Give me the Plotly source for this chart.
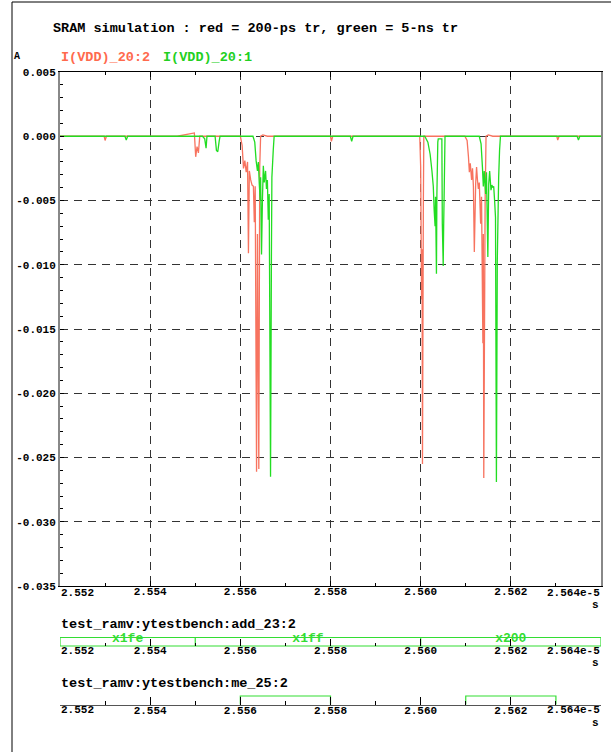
import plotly.graph_objects as go

# ---------------- data (time in units of 1e-5 s, current in A) ----------------
red_t = [2.5520, 2.55298, 2.55300, 2.55303, 2.5546, 2.55498, 2.55501, 2.55504, 2.55507, 2.5551,
         2.5560, 2.55604, 2.55607, 2.55610, 2.55613, 2.55616, 2.55618, 2.55620, 2.55623, 2.55626,
         2.55629, 2.55631, 2.55633, 2.55636, 2.55638, 2.55641, 2.55643, 2.55645, 2.5565, 2.5566,
         2.55800, 2.55802, 2.55805,
         2.55998, 2.56000, 2.56002, 2.56003, 2.56004, 2.56006, 2.56007,
         2.56098, 2.56103, 2.56106, 2.56108, 2.56110, 2.56113, 2.56115, 2.56117, 2.56119, 2.56122,
         2.56124, 2.56126, 2.56128, 2.56130, 2.56133, 2.56135, 2.56138, 2.56139, 2.56140, 2.56143,
         2.56145, 2.5615, 2.5616,
         2.56302, 2.56304, 2.56307, 2.5640]
red_v = [0.0, 0.0, -0.00033, 0.0, 0.0, 0.00026, -0.0016, -0.0008, -0.0013, 0.0,
         0.0, -0.00072, -0.0025, -0.0019, -0.0028, -0.0020, -0.0091, -0.0027, -0.0034, -0.0038,
         -0.0039, -0.0067, -0.0039, -0.0261, -0.0076, -0.0259, -0.0024, 0.0, 0.0001, 0.0,
         0.0, -0.0004, 0.0,
         0.0, -0.0024, -0.0127, -0.0088, -0.0255, -0.0050, 0.0,
         0.0, -0.00033, -0.0016, -0.0028, -0.0021, -0.0034, -0.0025, -0.0039, -0.0090, -0.0037,
         -0.0024, -0.0034, -0.0041, -0.0036, -0.0068, -0.0047, -0.0161, -0.0076, -0.0266, -0.0050,
         0.0, 0.0001, 0.0,
         0.0, -0.0003, 0.0, 0.0]

green_t = [2.5520, 2.55344, 2.55347, 2.55350,
           2.55516, 2.55521, 2.55524, 2.55526,
           2.55544, 2.55547, 2.55550, 2.55553, 2.55555,
           2.55628, 2.55632, 2.55635, 2.55638, 2.55640, 2.55642, 2.55644, 2.55645, 2.55647, 2.55649,
           2.55651, 2.55653, 2.55656, 2.55658, 2.55660, 2.55662, 2.55664, 2.55667, 2.55669, 2.55670,
           2.55673, 2.55675,
           2.55844, 2.55847, 2.55850,
           2.56009, 2.56016, 2.56021, 2.56025, 2.56028, 2.56030, 2.56032, 2.56033, 2.56035, 2.56036,
           2.56038, 2.56039, 2.56047, 2.56048, 2.56050, 2.56051, 2.56053, 2.56054,
           2.56130, 2.56134, 2.56137, 2.56139, 2.56141, 2.56144, 2.56146, 2.56149, 2.56151, 2.56153,
           2.56156, 2.56158, 2.56160, 2.56162, 2.56164, 2.56166, 2.56168, 2.56170, 2.56173, 2.56175,
           2.56177,
           2.56347, 2.56350, 2.56353, 2.5640]
green_v = [0.0, 0.0, -0.0003, 0.0,
           0.0, -0.0002, -0.00093, 0.0,
           0.0, -0.0011, -0.0012, -0.0004, 0.0,
           0.0, -0.00046, -0.0019, -0.0027, -0.0020, -0.0037, -0.0050, -0.0032, -0.0092, -0.0050,
           -0.0023, -0.0036, -0.0027, -0.0041, -0.0034, -0.0065, -0.0045, -0.0265, -0.0091, -0.0032,
           -0.0011, 0.0,
           0.0, -0.0004, 0.0,
           0.0, -0.00046, -0.0014, -0.0027, -0.0039, -0.0058, -0.0070, -0.0047, -0.0107, -0.0045,
           -0.00046, -0.0002, -0.0002, -0.0068, -0.0101, -0.0070, -0.0024, 0.0,
           0.0, -0.0006, -0.0024, -0.0039, -0.0027, -0.0045, -0.0028, -0.0094, -0.0037, -0.0027,
           -0.0042, -0.0038, -0.0040, -0.0039, -0.0050, -0.0063, -0.0269, -0.0096, -0.0032, -0.0011,
           0.0,
           0.0, -0.0003, 0.0, 0.0]

x_ticks = [2.552, 2.554, 2.556, 2.558, 2.560, 2.562, 2.564]
x_labels = ["2.552", "2.554", "2.556", "2.558", "2.560", "2.562", "2.564e-5"]
x_minor = [2.553, 2.555, 2.557, 2.559, 2.561, 2.563]
y_ticks = [0.005, 0.0, -0.005, -0.010, -0.015, -0.020, -0.025, -0.030, -0.035]
y_labels = ["0.005", "0.000", "-0.005", "-0.010", "-0.015", "-0.020", "-0.025", "-0.030", "-0.035"]
y_minor = [v / 1000 for v in range(-35, 6)]

bus_edges = [2.552, 2.555, 2.560, 2.564]
bus_values = ["x1fe", "x1ff", "x200"]

me_edges = [2.556, 2.558, 2.561, 2.563]   # rising, falling, rising, falling

# ---------------- styling ----------------
W, H = 611, 752
RED = "#F7735F"
GREEN = "#22DD22"
FONT = "Liberation Mono"
X0, X1 = 60, 601


def px(p):
    return p / W


def py(p):
    return 1 - p / H


# interior tick labels from the axis; end labels (left/right aligned) as annotations
tick_text = [""] + x_labels[1:-1] + [""]
tickfont = dict(family=FONT, size=11, color="black", weight="bold")

fig = go.Figure()

fig.add_trace(go.Scatter(x=red_t, y=red_v, mode="lines", line=dict(color=RED, width=1.3, simplify=False),
                         showlegend=False, xaxis="x", yaxis="y"))
fig.add_trace(go.Scatter(x=green_t, y=green_v, mode="lines", line=dict(color=GREEN, width=1.3, simplify=False),
                         showlegend=False, xaxis="x", yaxis="y"))

# bus panel: box + transitions
bx, by = [], []
bx += [bus_edges[0], bus_edges[-1], None, bus_edges[0], bus_edges[-1], None]
by += [1, 1, None, 0, 0, None]
for e in bus_edges:
    bx += [e, e, None]
    by += [0, 1, None]
fig.add_trace(go.Scatter(x=bx, y=by, mode="lines", line=dict(color="#33DD33", width=1.2),
                         showlegend=False, xaxis="x2", yaxis="y2", cliponaxis=False))
mids = [(bus_edges[i] + bus_edges[i + 1]) / 2 for i in range(len(bus_values))]
fig.add_trace(go.Scatter(x=mids, y=[0.8] * len(mids), mode="text", text=bus_values,
                         textfont=dict(family=FONT, size=13, color="#33DD33", weight="bold"),
                         showlegend=False, xaxis="x2", yaxis="y2", cliponaxis=False))

# digital panel (step)
sx, sy = [], []
for i in range(0, len(me_edges), 2):
    a, b = me_edges[i], me_edges[i + 1]
    sx += [a, a, b, b, None]
    sy += [0, 1, 1, 0, None]
fig.add_trace(go.Scatter(x=sx, y=sy, mode="lines", line=dict(color="#33DD33", width=1.2),
                         showlegend=False, xaxis="x3", yaxis="y3", cliponaxis=False))

common_x = dict(range=[2.552, 2.564], domain=[px(X0), px(X1)], tickmode="array",
                tickvals=x_ticks, ticktext=tick_text, tickangle=0, tickfont=tickfont,
                ticks="inside", tickcolor="black", zeroline=False, automargin=False)

fig.update_layout(
    width=W, height=H, margin=dict(l=0, r=0, t=0, b=0, autoexpand=False),
    paper_bgcolor="white", plot_bgcolor="white",
    xaxis=dict(**common_x, anchor="y", ticklen=5, ticklabelstandoff=-5,
               minor=dict(tickmode="array", tickvals=x_minor, ticks="inside", ticklen=3, tickcolor="black"),
               showgrid=True, gridcolor="#333", griddash="8px,6px", gridwidth=1,
               showline=True, linecolor="black", linewidth=1, mirror="ticks"),
    yaxis=dict(range=[-0.035, 0.005], domain=[py(586), py(72)], tickmode="array",
               tickvals=y_ticks, ticktext=y_labels, tickfont=tickfont, automargin=False,
               ticks="inside", ticklen=4, tickcolor="black",
               minor=dict(tickmode="array", tickvals=y_minor, ticks="inside", ticklen=3, tickcolor="black"),
               showgrid=True, gridcolor="#333", griddash="8px,6px", gridwidth=1,
               showline=True, linecolor="#888", linewidth=2, mirror=True, zeroline=False),
    xaxis2=dict(**common_x, anchor="free", position=py(646), ticklen=7, ticklabelstandoff=-4,
                minor=dict(tickmode="array", tickvals=x_minor, ticks="inside", ticklen=3, tickcolor="black"),
                showgrid=False, showline=False),
    yaxis2=dict(range=[-0.47, 1.41], domain=[py(650), py(634)], visible=False, automargin=False),
    xaxis3=dict(**common_x, anchor="free", position=py(704.5), ticklen=8, ticklabelstandoff=-5,
                minor=dict(tickmode="array", tickvals=x_minor, ticks="inside", ticklen=4, tickcolor="black"),
                showgrid=False, showline=True, linecolor="#555", linewidth=1),
    yaxis3=dict(range=[-0.47, 1.235], domain=[py(708.5), py(694)], visible=False, automargin=False),
)

ann_font = dict(family=FONT, size=13.5, color="black", weight="bold")
small_font = dict(family=FONT, size=11, color="black", weight="bold")
annotations = [
    dict(text="SRAM simulation : red = 200-ps tr, green = 5-ns tr", x=px(52), y=py(28), font=ann_font),
    dict(text="A", x=px(13), y=py(56), font=dict(family=FONT, size=10, color="black", weight="bold")),
    dict(text="I(VDD)_20:2", x=px(60), y=py(57), font=dict(family=FONT, size=13.5, color="#FF6A4D", weight="bold")),
    dict(text="I(VDD)_20:1", x=px(162), y=py(57), font=dict(family=FONT, size=13.5, color="#22D022", weight="bold")),
    dict(text="test_ramv:ytestbench:add_23:2", x=px(60), y=py(624), font=ann_font),
    dict(text="test_ramv:ytestbench:me_25:2", x=px(60), y=py(683), font=ann_font),
]
for a in annotations:
    a.update(xref="paper", xanchor="left")
for xr, ly, sy_ in (("x", 592.5, 605), ("x2", 651, 663), ("x3", 710, 723)):
    annotations.append(dict(text=x_labels[0], x=x_ticks[0], xref=xr, xanchor="left", y=py(ly), font=small_font))
    annotations.append(dict(text=x_labels[-1], x=x_ticks[-1], xref=xr, xanchor="right", y=py(ly), font=small_font))
    annotations.append(dict(text="s", x=px(600), xref="paper", xanchor="right", y=py(sy_), font=small_font))
for a in annotations:
    a.update(yref="paper", yanchor="middle", showarrow=False, borderpad=0)
fig.update_layout(annotations=annotations)

# outer frame
fig.update_layout(shapes=[
    dict(type="line", xref="paper", yref="paper", x0=px(12), x1=1, y0=py(2), y1=py(2), line=dict(color="black", width=1)),
    dict(type="line", xref="paper", yref="paper", x0=px(12), x1=px(12), y0=py(2), y1=0, line=dict(color="black", width=1)),
])

fig.write_html("out.html")
